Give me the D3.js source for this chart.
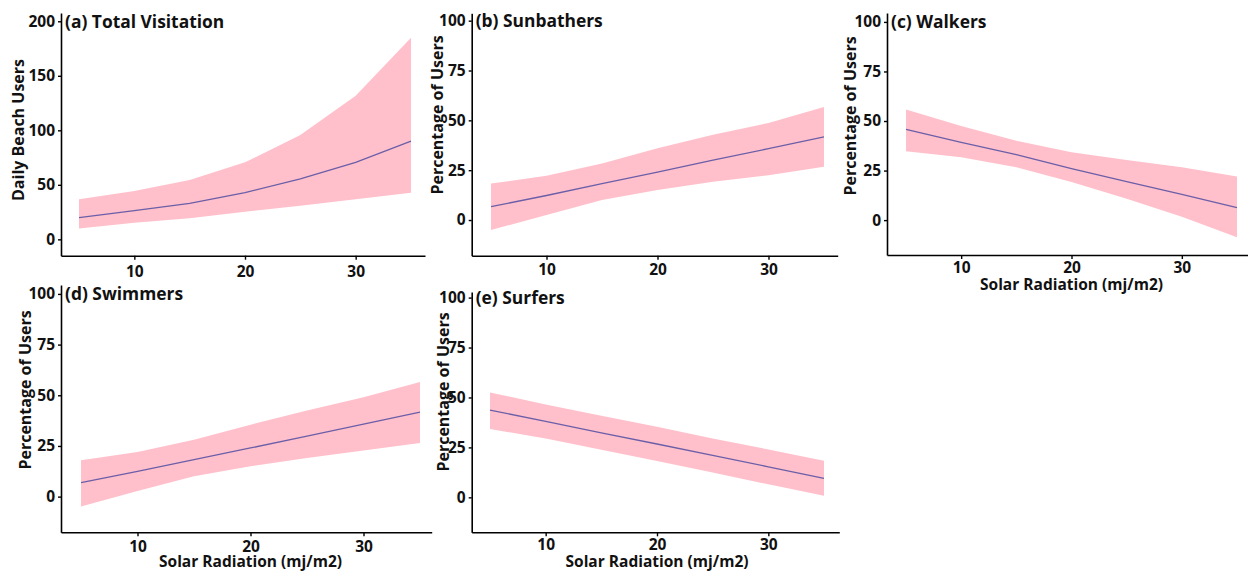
<!DOCTYPE html>
<html><head><meta charset="utf-8">
<script src="https://cdn.jsdelivr.net/npm/d3@7"></script>
<style>
html,body{margin:0;padding:0;background:#fff;}
svg{display:block;font-family:"Open Sans",sans-serif;font-weight:700;}
</style></head>
<body><svg id="chart" width="1248" height="573"></svg>
<script>
// ---- data ----
const solarRadiation = [5, 10, 15, 20, 25, 30, 35];
const xTicks = [10, 20, 30];
const totalTicks = [0, 50, 100, 150, 200];
const pctTicks = [0, 25, 50, 75, 100];

const totalFit   = [20, 26.3, 33, 42.8, 55.4, 70.6, 90];
const totalLower = [10, 15.3, 19.3, 25.4, 30.9, 36.7, 42.8];
const totalUpper = [36.7, 44.3, 54.4, 70.6, 95.7, 131.8, 185];

const sunFit   = [6.7, 12.3, 18.2, 24, 30, 35.8, 41.7];
const sunLower = [-5, 2.5, 10, 15, 19.2, 22.5, 26.7];
const sunUpper = [18.3, 22.2, 28.3, 36, 42.8, 48.7, 56.7];

const walkFit   = [45.8, 39.2, 33, 26, 19.4, 13, 6.3];
const walkLower = [34.7, 31.7, 26.7, 19.2, 10.8, 1.7, -8.7];
const walkUpper = [55.8, 47.5, 40, 34.2, 30.3, 26.7, 22];

const swimFit   = [6.9, 12.5, 18.3, 24, 29.8, 35.8, 41.7];
const swimLower = [-4.9, 2.8, 10, 15, 19, 22.8, 26.5];
const swimUpper = [18, 22, 28, 35.5, 42.5, 49, 56.5];

const surfFit   = [43.7, 38, 32.3, 26.7, 21, 15.3, 9.5];
const surfLower = [34.2, 29.5, 23.8, 18.2, 12.5, 6.5, 0.8];
const surfUpper = [52.5, 46.5, 40.8, 35.3, 29.5, 24, 18.3];

const titles = ["(a) Total Visitation", "(b) Sunbathers", "(c) Walkers", "(d) Swimmers", "(e) Surfers"];
const yTitles = ["Daily Beach Users", "Percentage of Users", "Percentage of Users", "Percentage of Users", "Percentage of Users"];
const xTitle = "Solar Radiation (mj/m2)";

// ---- layout ----
const panels = [
  {fit: totalFit, lo: totalLower, hi: totalUpper, ticks: totalTicks, yDom: [-15, 207.6],
   left: 61, right: 425, top: 13, bottom: 255.7, x5: 79, x35: 411, yTitleX: 18, yTitleY: 130, tickGap: 6, showX: false},
  {fit: sunFit, lo: sunLower, hi: sunUpper, ticks: pctTicks, yDom: [-17.9, 103.7],
   left: 471.7, right: 837.7, top: 13.3, bottom: 255.7, x5: 491, x35: 824, yTitleX: 437, yTitleY: 115, tickGap: 4, showX: false},
  {fit: walkFit, lo: walkLower, hi: walkUpper, ticks: pctTicks, yDom: [-17.6, 104.5],
   left: 887, right: 1248, top: 13, bottom: 255, x5: 906, x35: 1237, yTitleX: 850, yTitleY: 116, tickGap: 3, showX: true, xTitleY: 284},
  {fit: swimFit, lo: swimLower, hi: swimUpper, ticks: pctTicks, yDom: [-17.6, 104.4],
   left: 61, right: 431.7, top: 285, bottom: 532.3, x5: 81, x35: 420, yTitleX: 25, yTitleY: 390, tickGap: 5, showX: true, xTitleY: 561.5},
  {fit: surfFit, lo: surfLower, hi: surfUpper, ticks: pctTicks, yDom: [-17.5, 102.8],
   left: 471.7, right: 839.3, top: 292, bottom: 532.3, x5: 490, x35: 824, yTitleX: 443, yTitleY: 392, tickGap: 3, showX: true, xTitleY: 561.5}
];

const svg = d3.select("#chart");

panels.forEach((p, i) => {
  const base = d3.scaleLinear().domain([5, 35]).range([p.x5, p.x35]);
  const x = d3.scaleLinear().domain([base.invert(p.left), base.invert(p.right)]).range([p.left, p.right]);
  const y = d3.scaleLinear().domain(p.yDom).range([p.bottom, p.top]);
  const g = svg.append("g");

  const rows = solarRadiation.map((s, k) => ({s, fit: p.fit[k], lo: p.lo[k], hi: p.hi[k]}));

  g.append("path").datum(rows)
    .attr("fill", "#ffc0cb")
    .attr("d", d3.area().x(d => x(d.s)).y0(d => y(d.lo)).y1(d => y(d.hi)));

  g.append("path").datum(rows)
    .attr("fill", "none").attr("stroke", "#6b5ea8").attr("stroke-width", 1.3)
    .attr("d", d3.line().x(d => x(d.s)).y(d => y(d.fit)));

  const xa = g.append("g").attr("transform", `translate(0,${p.bottom})`)
    .call(d3.axisBottom(x).tickValues(xTicks).tickSize(4).tickSizeOuter(0).tickPadding(p.tickGap));
  const ya = g.append("g").attr("transform", `translate(${p.left},0)`)
    .call(d3.axisLeft(y).tickValues(p.ticks).tickSize(3).tickSizeOuter(0).tickPadding(3));
  [xa, ya].forEach(a => {
    a.select(".domain").attr("stroke", "#000").attr("stroke-width", 1.6);
    a.selectAll(".tick line").attr("stroke", "#000").attr("stroke-width", 1.4);
    a.selectAll("text").attr("fill", "#111").style("font-size", "15.5px").style("font-weight", 700)
      .style("font-family", "'Open Sans',sans-serif");
  });

  g.append("text").attr("x", p.left + 4).attr("y", y(p.ticks[p.ticks.length - 1]))
    .attr("dy", "0.36em").attr("fill", "#111")
    .style("font-size", "17.4px").text(titles[i]);

  g.append("text").attr("transform", `translate(${p.yTitleX},${p.yTitleY}) rotate(-90)`)
    .attr("text-anchor", "middle").attr("dy", "0.36em").attr("fill", "#111")
    .style("font-size", "16px").text(yTitles[i]);

  if (p.showX) {
    g.append("text").attr("x", x(20)).attr("y", p.xTitleY)
      .attr("text-anchor", "middle").attr("dy", "0.36em").attr("fill", "#111")
      .style("font-size", "15.5px").text(xTitle);
  }
});
</script></body></html>
